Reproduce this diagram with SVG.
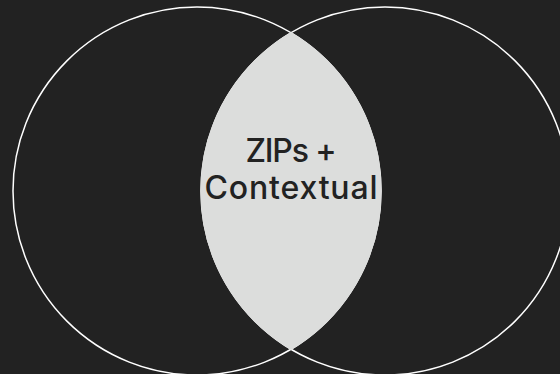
<svg xmlns="http://www.w3.org/2000/svg" width="560" height="374" viewBox="0 0 560 374">
  <style>
    .ring { fill: none; stroke: #ffffff; stroke-width: 1.5; }
    .lens { fill: #dcdddc; stroke: #dcdddc; stroke-width: 1.6; }
    .label { font-family: Inter, "Liberation Sans", sans-serif; font-size: 32px; font-weight: 500; fill: #222222; text-anchor: middle; }
  </style>
  <rect width="560" height="374" fill="#222222"/>
  <g id="connectors"/>
  <g id="set-left">
    <circle class="ring" cx="197" cy="191" r="184"/>
  </g>
  <g id="set-right">
    <circle class="ring" cx="385" cy="191" r="184"/>
  </g>
  <g id="overlap">
    <path class="lens" d="M291,32.9 A184,184 0 0,1 291,349.1 A184,184 0 0,1 291,32.9 Z"/>
    <text class="label" x="291" y="162" textLength="91" lengthAdjust="spacing">ZIPs +</text>
    <text class="label" x="291" y="199" textLength="173" lengthAdjust="spacing">Contextual</text>
  </g>
</svg>
